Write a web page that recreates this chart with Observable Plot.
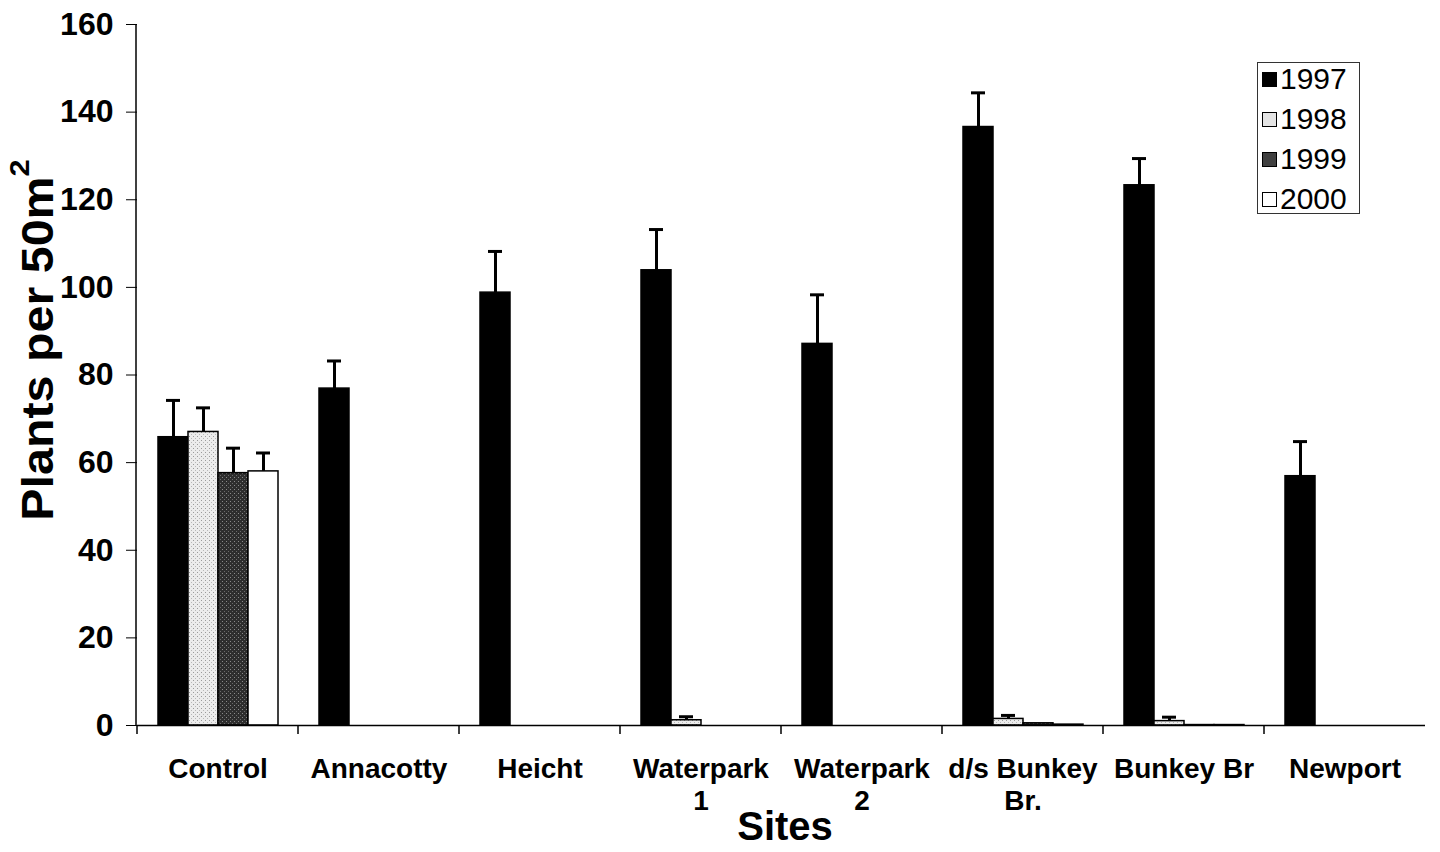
<!DOCTYPE html>
<html><head><meta charset="utf-8">
<script src="https://cdn.jsdelivr.net/npm/d3@7"></script>
<script src="https://cdn.jsdelivr.net/npm/@observablehq/plot@0.6"></script>
<style>
body{margin:0;background:#fff;font-family:"Liberation Sans",Arial,sans-serif;}
#wrap{position:relative;width:1440px;height:852px;overflow:hidden;}
#ytitle{position:absolute;left:38px;top:340px;transform:translate(-50%,-50%) rotate(-90deg) scaleX(1.1);font-size:44px;font-weight:bold;white-space:nowrap;line-height:1;}
#ytitle sup{font-size:28px;vertical-align:top;position:relative;top:-10px;}
#xtitle{position:absolute;left:785px;top:826px;transform:translate(-50%,-50%);font-size:40px;font-weight:bold;line-height:1.2;}
#legend{position:absolute;left:1257px;top:62px;width:103px;height:152px;border:1px solid #333;box-sizing:border-box;background:#fff;}
.row{position:absolute;left:4px;height:30px;display:flex;align-items:center;font-size:30px;}
.sw{width:15px;height:15px;border:1.5px solid #000;margin-right:3px;box-sizing:border-box;}
</style></head>
<body><div id="wrap"></div>
<script>
const sites = ["Control","Annacotty","Heicht","Waterpark\n1","Waterpark\n2","d/s Bunkey\nBr.","Bunkey Br","Newport"];
const years = ["1997","1998","1999","2000"];
const mean1997 = [65.8, 76.9, 98.8, 103.9, 87.1, 136.6, 123.3, 56.9];
const err1997  = [8.4, 6.3, 9.4, 9.3, 11.2, 7.8, 6.1, 7.9];
const mean1998 = [67.0, 0, 0, 1.2, 0, 1.5, 1.0, 0];
const err1998  = [5.5, null, null, 0.8, null, 0.8, 0.9, null];
const mean1999 = [57.6, 0, 0, 0, 0, 0.5, 0.1, 0];
const err1999  = [5.7, null, null, null, null, null, null, null];
const mean2000 = [58.0, 0, 0, 0, 0, 0.2, 0.1, 0];
const err2000  = [4.2, null, null, null, null, null, null, null];
const yTicks = [0, 20, 40, 60, 80, 100, 120, 140, 160];
const fills = ["#000000", "url(#p98)", "url(#p99)", "#ffffff"];
const legendFills = ["#000", "#e4e4e4", "#404040", "#fff"];

const means = [mean1997, mean1998, mean1999, mean2000];
const errs = [err1997, err1998, err1999, err2000];
const data = [];
sites.forEach((s, i) => years.forEach((y, j) => data.push({site: s, year: y, value: means[j][i], err: errs[j][i]})));
const errData = data.filter(d => d.err != null);

const W = 1440, H = 852, mL = 136, mR = 15, mT = 24, mB = 127;

const plot = Plot.plot({
  width: W, height: H,
  marginLeft: mL, marginRight: mR, marginTop: mT, marginBottom: mB,
  style: {fontFamily: "'Liberation Sans', Arial, sans-serif", fontWeight: "bold", color: "#000", background: "#fff"},
  fx: {domain: sites, paddingInner: 0, paddingOuter: 0},
  x: {domain: years, paddingInner: 0, paddingOuter: 0.68, axis: null},
  y: {domain: [0, 160]},
  color: {domain: years, range: fills},
  marks: [
    Plot.barY(data, {fx: "site", x: "year", y: "value", fill: "year", stroke: "#000", strokeWidth: 1.5}),
    Plot.ruleX(errData, {fx: "site", x: "year", y1: "value", y2: d => d.value + d.err, stroke: "#000", strokeWidth: 3}),
    Plot.tickY(errData, {fx: "site", x: "year", y: d => d.value + d.err, stroke: "#000", strokeWidth: 3, insetLeft: 8, insetRight: 8}),
    Plot.ruleY([0], {stroke: "#000", strokeWidth: 1.5}),
    Plot.axisY({ticks: yTicks, tickSize: 11, tickPadding: 13, fontSize: 32, label: null, stroke: "#000"}),
    Plot.axisFx({anchor: "bottom", tickSize: 0, tickPadding: 30, fontSize: 28, lineHeight: 1.14, label: null})
  ]
});

const svg = d3.select(plot);
const defs = svg.insert("defs", ":first-child");
const p1 = defs.append("pattern").attr("id", "p98").attr("width", 4).attr("height", 4).attr("patternUnits", "userSpaceOnUse");
p1.append("rect").attr("width", 4).attr("height", 4).attr("fill", "#ececec");
p1.append("rect").attr("x", 0).attr("y", 0).attr("width", 1).attr("height", 1).attr("fill", "#9a9a9a");
p1.append("rect").attr("x", 2).attr("y", 2).attr("width", 1).attr("height", 1).attr("fill", "#b8b8b8");
const p2 = defs.append("pattern").attr("id", "p99").attr("width", 4).attr("height", 4).attr("patternUnits", "userSpaceOnUse");
p2.append("rect").attr("width", 4).attr("height", 4).attr("fill", "#2e2e2e");
p2.append("rect").attr("x", 1).attr("y", 1).attr("width", 1).attr("height", 1).attr("fill", "#8a8a8a");
p2.append("rect").attr("x", 3).attr("y", 3).attr("width", 1).attr("height", 1).attr("fill", "#6a6a6a");

// axis line on the left and boundary ticks between sites, placed with the plot's own scales
const ys = plot.scale("y"), fxs = plot.scale("fx");
const y0 = ys.apply(0), yTop = ys.apply(160);
const g = svg.append("g").attr("stroke", "#000");
g.append("line").attr("x1", mL).attr("x2", mL).attr("y1", yTop).attr("y2", y0).attr("stroke-width", 1.5);
sites.forEach(s => {
  const x = fxs.apply(s);
  g.append("line").attr("x1", x).attr("x2", x).attr("y1", y0).attr("y2", y0 + 9).attr("stroke-width", 1.5);
});

const wrap = document.getElementById("wrap");
wrap.appendChild(plot);
const yt = document.createElement("div"); yt.id = "ytitle"; yt.innerHTML = "Plants per 50m<sup>2</sup>"; wrap.appendChild(yt);
const xt = document.createElement("div"); xt.id = "xtitle"; xt.textContent = "Sites"; wrap.appendChild(xt);
const lg = document.createElement("div"); lg.id = "legend";
years.forEach((y, i) => {
  const r = document.createElement("div"); r.className = "row"; r.style.top = (1 + i * 40) + "px";
  const sw = document.createElement("div"); sw.className = "sw"; sw.style.background = legendFills[i];
  const t = document.createElement("span"); t.textContent = y;
  r.appendChild(sw); r.appendChild(t); lg.appendChild(r);
});
wrap.appendChild(lg);
</script></body></html>
